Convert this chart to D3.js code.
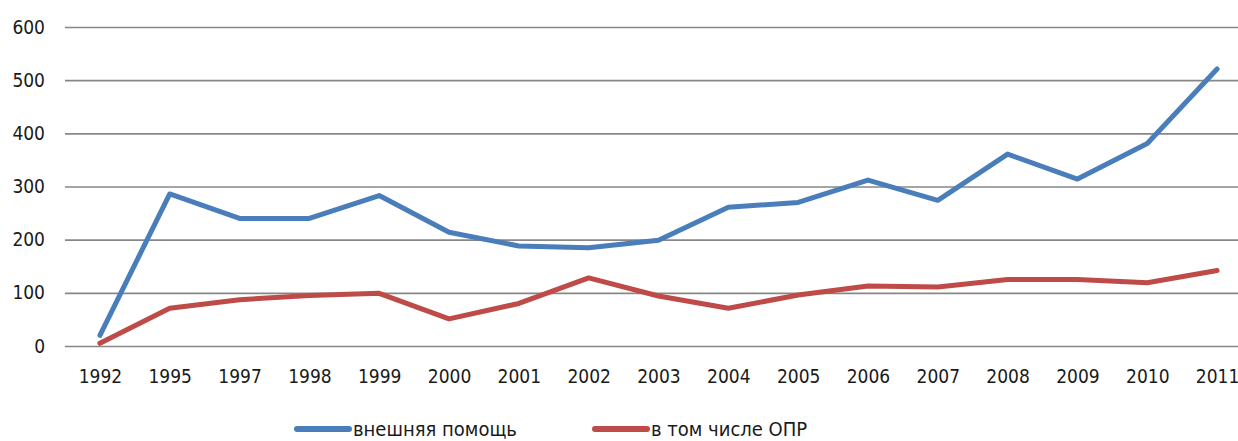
<!DOCTYPE html>
<html>
<head>
<meta charset="utf-8">
<script src="https://cdn.jsdelivr.net/npm/d3@7"></script>
<style>
  body { margin: 0; background: #fff; }
  text { font-family: "Liberation Sans Narrow", "DejaVu Sans Condensed", "Liberation Sans", sans-serif; fill: #1a1a1a; }
</style>
</head>
<body>
<div id="chart"></div>
<script>
// Daten
var years = ["1992","1995","1997","1998","1999","2000","2001","2002","2003","2004","2005","2006","2007","2008","2009","2010","2011"];
var aid = [20, 286, 240, 240, 283, 214, 188, 185, 199, 261, 270, 312, 274, 361, 314, 381, 521];
var oda = [5, 71, 87, 95, 99, 51, 80, 128, 94, 71, 96, 113, 111, 125, 125, 119, 142];
var yTicks = [0, 100, 200, 300, 400, 500, 600];
var seriesNames = ["внешняя помощь", "в том числе ОПР"];
var colors = ["#4a7ebb", "#be4b48"];

var W = 1238, H = 441;
var plotLeft = 65, plotRight = 1252, plotTop = 27, plotBottom = 346;

var svg = d3.select("#chart").append("svg")
  .attr("width", W).attr("height", H);

var x = d3.scalePoint().domain(years).range([plotLeft, plotRight]).padding(0.5);
var y = d3.scaleLinear().domain([0, 600]).range([plotBottom, plotTop]);

// Gitterlinien + Y-Achse
var yAxis = d3.axisLeft(y).tickValues(yTicks).tickSize(-(plotRight - plotLeft)).tickPadding(20);
var gy = svg.append("g").attr("transform", "translate(" + plotLeft + ",0)").call(yAxis);
gy.attr("font-family", null);
gy.select(".domain").remove();
gy.selectAll("line").attr("stroke", "#878787").attr("stroke-width", 1.6);
gy.selectAll("text").attr("font-size", 19).attr("fill", "#1a1a1a");

// X-Achse (nur Beschriftung)
var xAxis = d3.axisBottom(x).tickSize(0).tickPadding(24);
var gx = svg.append("g").attr("transform", "translate(0," + plotBottom + ")").call(xAxis);
gx.attr("font-family", null);
gx.select(".domain").remove();
gx.selectAll("text").attr("font-size", 19).attr("fill", "#1a1a1a");

// Linien
var line = d3.line()
  .x(function(d, i) { return x(years[i]); })
  .y(function(d) { return y(d); });

[aid, oda].forEach(function(s, i) {
  svg.append("path")
    .datum(s)
    .attr("d", line)
    .attr("fill", "none")
    .attr("stroke", colors[i])
    .attr("stroke-width", 5)
    .attr("stroke-linejoin", "round")
    .attr("stroke-linecap", "round");
});

// Legende
var legX = [297, 595];
seriesNames.forEach(function(name, i) {
  var g = svg.append("g").attr("transform", "translate(" + legX[i] + ",429)");
  g.append("line")
    .attr("x1", 0).attr("x2", 52).attr("y1", 0).attr("y2", 0)
    .attr("stroke", colors[i]).attr("stroke-width", 6).attr("stroke-linecap", "round");
  g.append("text")
    .attr("x", 56).attr("y", 0).attr("dy", "0.35em")
    .attr("font-size", 20)
    .text(name);
});
</script>
</body>
</html>
